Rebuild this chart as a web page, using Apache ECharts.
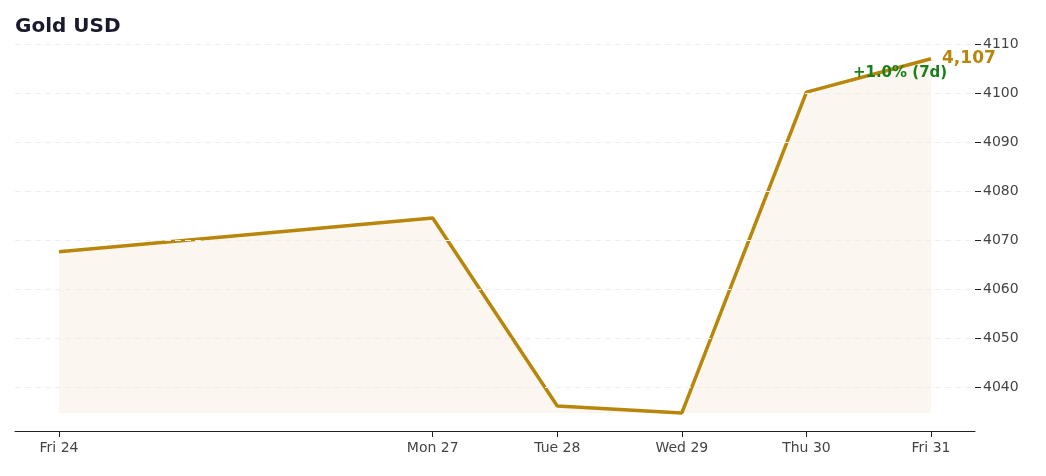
<!DOCTYPE html>
<html><head><meta charset="utf-8">
<script src="https://cdn.jsdelivr.net/npm/echarts@6/dist/echarts.min.js"></script>
<style>html,body{margin:0;padding:0;background:#fff}#c{width:1046px;height:476px}</style>
</head><body><div id="c"></div>
<script>
const days = [24, 27, 28, 29, 30, 31];
const dayLabels = ['Fri 24', 'Mon 27', 'Tue 28', 'Wed 29', 'Thu 30', 'Fri 31'];
const prices = [4067.6, 4074.5, 4036.1, 4034.7, 4100.2, 4107.0];
const yTicks = [4040, 4050, 4060, 4070, 4080, 4090, 4100, 4110];
const lastLabel = '4,107';
const changeLabel = '+1.0% (7d)';

const chart = echarts.init(document.getElementById('c'));
const data = days.map((d, i) => [d, prices[i]]);
chart.setOption({
  animation: false,
  title: { text: 'Gold USD', left: 10, top: 12, textStyle: { fontFamily: 'DejaVu Sans', fontSize: 20, fontWeight: 'bold', color: '#1a1a2e' } },
  grid: { left: 15, right: 71, top: 0, bottom: 45 },
  xAxis: {
    type: 'value', min: 23.647, max: 31.353,
    splitLine: { show: false },
    axisLine: { lineStyle: { color: '#222' } },
    axisTick: { customValues: days, length: 6, lineStyle: { color: '#222' } },
    axisLabel: { customValues: days, formatter: v => dayLabels[days.indexOf(Math.round(v))] || '', color: '#444', fontFamily: 'DejaVu Sans', fontSize: 14, margin: 10 }
  },
  yAxis: {
    type: 'value', position: 'right', min: 4031, max: 4119,
    axisLine: { show: false },
    axisTick: { show: true, customValues: yTicks, length: 6, lineStyle: { color: '#222' } },
    axisLabel: { customValues: yTicks, formatter: v => String(v), color: '#444', fontFamily: 'DejaVu Sans', fontSize: 14, margin: 8 },
    splitLine: { show: false }
  },
  series: [{
    type: 'line', data: data, showSymbol: false,
    lineStyle: { color: '#b8860b', width: 3.5 },
    areaStyle: { color: 'rgba(184,134,11,0.09)', origin: Math.min(...prices) },
    markLine: {
      silent: true, symbol: 'none', label: { show: false },
      lineStyle: { color: '#eee', type: [6, 4], width: 1 },
      data: yTicks.map(v => ({ yAxis: v }))
    },
    markPoint: {
      symbol: 'circle', symbolSize: 0,
      data: [
        { coord: data[data.length - 1], label: { show: true, formatter: lastLabel, color: '#b8860b', fontWeight: 'bold', fontSize: 17, fontFamily: 'DejaVu Sans', position: 'right', offset: [6, 0] } },
        { coord: data[data.length - 1], label: { show: true, formatter: changeLabel, color: '#1a7f1a', fontWeight: 'bold', fontSize: 15, fontFamily: 'DejaVu Sans', position: 'inside', offset: [-31, 14] } }
      ]
    }
  }]
});
</script></body></html>
